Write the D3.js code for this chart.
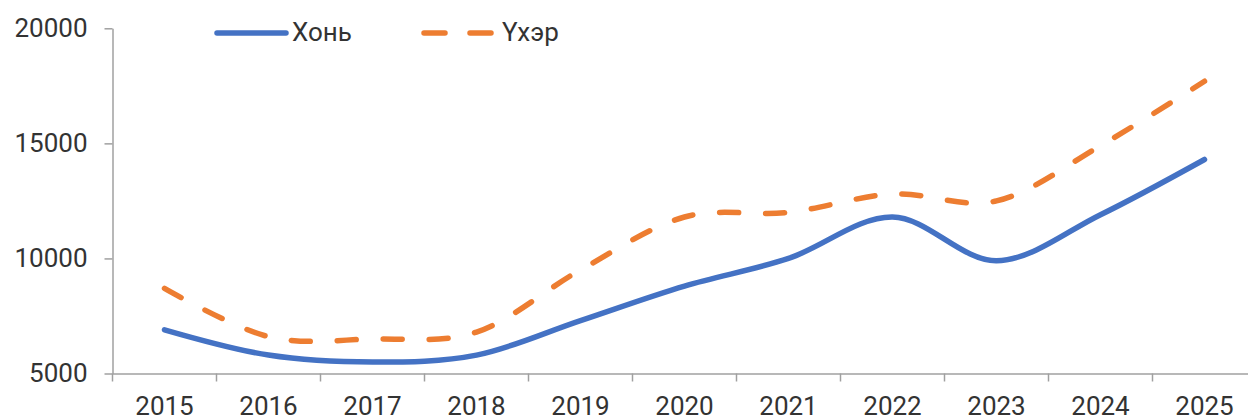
<!DOCTYPE html>
<html>
<head>
<meta charset="utf-8">
<script src="https://cdn.jsdelivr.net/npm/d3@7"></script>
<style>
  html, body { margin: 0; padding: 0; background: #fff; overflow: hidden; }
  svg { display: block; font-family: Roboto, "Noto Sans", sans-serif; }
</style>
</head>
<body>
<svg id="chart" width="1248" height="418"></svg>
<script>
const years = ["2015","2016","2017","2018","2019","2020","2021","2022","2023","2024","2025"];
const seriesNames = ["Хонь", "Үхэр"];
const khon = [6900, 5800, 5500, 5800, 7300, 8800, 10000, 11800, 9900, 11900, 14300];
const ukher = [8700, 6600, 6500, 6800, 9500, 11800, 12000, 12800, 12500, 14900, 17700];
const yTicks = [5000, 10000, 15000, 20000];

const svg = d3.select("#chart");
const axisColor = "#a0a0a0";
const textColor = "#333333";
const colors = ["#4472C4", "#ED7D31"];

const x = d3.scaleBand().domain(years).range([112.5, 1256.5]).padding(0);
const y = d3.scaleLinear().domain([5000, 20000]).range([373.5, 28.3]);
const cx = d => x(d) + x.bandwidth() / 2;

// Y axis
const yAxis = svg.append("g")
  .attr("transform", "translate(112.5,0)")
  .call(d3.axisLeft(y).tickValues(yTicks).tickSize(8).tickSizeOuter(0).tickPadding(17).tickFormat(d3.format("d")));
yAxis.select(".domain").attr("stroke", axisColor).attr("stroke-width", 1.5);
yAxis.selectAll(".tick line").attr("stroke", axisColor).attr("stroke-width", 1.5);
yAxis.selectAll(".tick text").attr("fill", textColor).style("font-size", "26px").style("font-family", "Roboto");

// X axis
const xAxis = svg.append("g")
  .attr("transform", `translate(0,${y(5000)})`)
  .call(d3.axisBottom(x).tickSize(0).tickSizeOuter(0).tickPadding(23));
xAxis.select(".domain").attr("stroke", axisColor).attr("stroke-width", 1.5);
xAxis.selectAll(".tick text").attr("fill", textColor).style("font-size", "26px").style("font-family", "Roboto");
// ticks between categories
const boundaries = years.map(d => x(d)).concat([x(years[years.length - 1]) + x.bandwidth()]);
xAxis.selectAll(".btick").data(boundaries).enter().append("line")
  .attr("class", "btick")
  .attr("x1", d => d).attr("x2", d => d)
  .attr("y1", 0).attr("y2", 8)
  .attr("stroke", axisColor).attr("stroke-width", 1.5);

// Lines
const line = d3.line()
  .x((d, i) => cx(years[i]))
  .y(d => y(d))
  .curve(d3.curveCardinal.tension(0));

svg.append("path").datum(khon)
  .attr("d", line)
  .attr("fill", "none")
  .attr("stroke", colors[0])
  .attr("stroke-width", 5.5)
  .attr("stroke-linecap", "round")
  .attr("stroke-linejoin", "round");

svg.append("path").datum(ukher)
  .attr("d", line)
  .attr("fill", "none")
  .attr("stroke", colors[1])
  .attr("stroke-width", 5.5)
  .attr("stroke-linecap", "round")
  .attr("stroke-dasharray", "19 27");

// Legend
const legendItems = [
  { name: seriesNames[0], color: colors[0], dash: null, x1: 217, x2: 286, tx: 292 },
  { name: seriesNames[1], color: colors[1], dash: "26 21", x1: 424, x2: 496, tx: 502 }
];
const lg = svg.append("g");
legendItems.forEach(it => {
  lg.append("line")
    .attr("x1", it.x1).attr("x2", it.x2)
    .attr("y1", 33).attr("y2", 33)
    .attr("stroke", it.color)
    .attr("stroke-width", 5.5)
    .attr("stroke-linecap", "round")
    .attr("stroke-dasharray", it.dash ? "21 25" : null);
  lg.append("text")
    .attr("x", it.tx).attr("y", 41)
    .attr("fill", textColor)
    .style("font-size", "26px")
    .style("font-family", "Roboto")
    .text(it.name);
});
</script>
</body>
</html>
